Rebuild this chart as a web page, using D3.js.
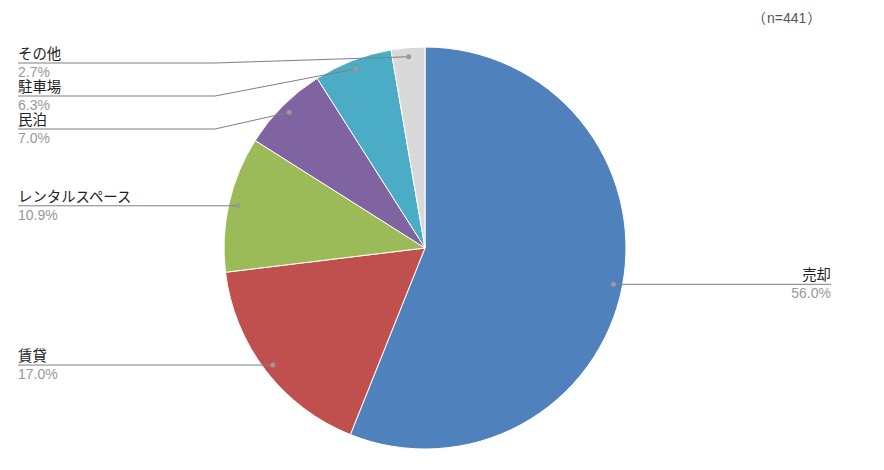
<!DOCTYPE html>
<html><head><meta charset="utf-8">
<script src="https://cdn.jsdelivr.net/npm/d3@7"></script>
<style>
html,body{margin:0;padding:0;background:#fff;}
svg{display:block;font-family:"Liberation Sans",Arial,"Noto Sans CJK JP",sans-serif;}
</style></head>
<body>
<svg id="chart" width="884" height="470"></svg>
<script>
const categories = ["売却", "賃貸", "レンタルスペース", "民泊", "駐車場", "その他"];
const values = [56.0, 17.0, 10.9, 7.0, 6.3, 2.7];
const colors = ["#4f81bd", "#c0504d", "#9bbb59", "#8064a2", "#4bacc6", "#d9d9d9"];
const noteParts = ["（", "n=441", "）"];

const svg = d3.select("#chart");
const cx = 425, cy = 248, R = 201;
const g = svg.append("g").attr("transform", `translate(${cx},${cy})`);

const pie = d3.pie().sort(null).value(d => d.v);
const data = categories.map((c, i) => ({c, v: values[i], col: colors[i]}));
const arcs = pie(data);
const arc = d3.arc().innerRadius(0).outerRadius(R);

g.selectAll("path.slice").data(arcs).join("path")
  .attr("class", "slice")
  .attr("d", arc)
  .attr("fill", d => d.data.col)
  .attr("stroke", "#fff").attr("stroke-width", 1);

// label layout
const dotR = R * 0.955;
const labels = arcs.map(a => {
  const m = (a.startAngle + a.endAngle) / 2;
  const x = cx + dotR * Math.sin(m), y = cy - dotR * Math.cos(m);
  return {a, x, y, side: x < cx ? "left" : "right", ly: y};
});
const minGap = 33, topMin = 63;
["left", "right"].forEach(side => {
  const L = labels.filter(l => l.side === side).sort((p, q) => p.y - q.y);
  let prev = -Infinity;
  L.forEach((l, i) => {
    l.ly = Math.max(l.y, i === 0 ? topMin : prev + minGap);
    prev = l.ly;
  });
});

const leftX = 18, rightX = 831, bendL = 215, bendR = 635;
const fmt = d3.format(".1f");
labels.forEach(l => {
  const isL = l.side === "left";
  const endX = isL ? leftX : rightX, bend = isL ? bendL : bendR;
  svg.append("polyline")
    .attr("points", `${l.x},${l.y} ${bend},${l.ly} ${endX},${l.ly}`)
    .attr("fill", "none").attr("stroke", "#7f7f7f").attr("stroke-width", 1);
  svg.append("circle").attr("cx", l.x).attr("cy", l.y).attr("r", 2.5).attr("fill", "#999");
  svg.append("text").attr("x", endX).attr("y", l.ly - 4)
    .attr("text-anchor", isL ? "start" : "end")
    .attr("font-size", 14.4).attr("fill", "#222").text(l.a.data.c);
  svg.append("text").attr("x", endX).attr("y", l.ly + 14)
    .attr("text-anchor", isL ? "start" : "end")
    .attr("font-size", 14).attr("fill", "#999").text(fmt(l.a.data.v) + "%");
});

// note: "（" ends at the start of "n=441", "）" starts right after it
const noteY = 23, noteStart = 767;
const mid = svg.append("text").attr("x", noteStart).attr("y", noteY)
  .attr("font-size", 14).attr("fill", "#555").text(noteParts[1]);
const mw = mid.node().getComputedTextLength();
svg.append("text").attr("x", noteStart - 1).attr("y", noteY).attr("text-anchor", "end")
  .attr("font-family", "Noto Sans CJK JP").attr("font-size", 14).attr("fill", "#555").text(noteParts[0]);
svg.append("text").attr("x", noteStart + mw + 1).attr("y", noteY)
  .attr("font-family", "Noto Sans CJK JP").attr("font-size", 14).attr("fill", "#555").text(noteParts[2]);
</script>
</body></html>
